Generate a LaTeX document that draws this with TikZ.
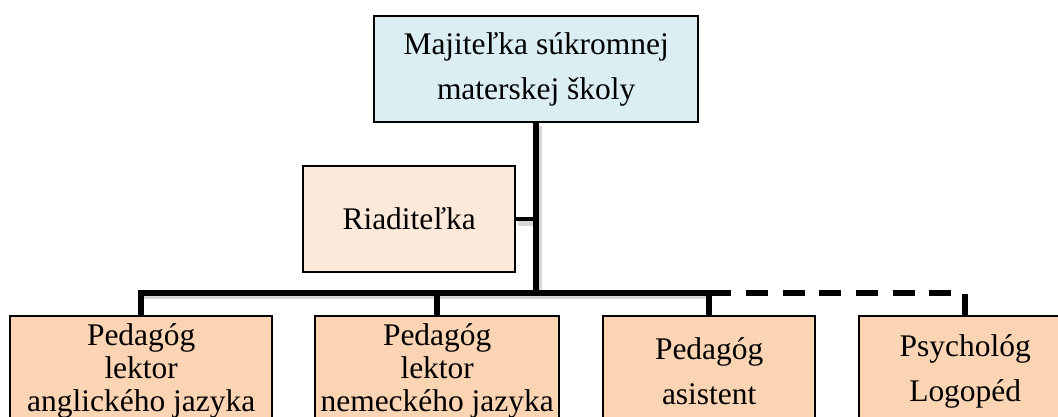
\documentclass[tikz,border=0pt]{standalone}
\usepackage{fontspec}
\setmainfont{Liberation Serif}
\begin{document}
\begin{tikzpicture}[x=0.75pt,y=-0.75pt,
  orgbox/.style={draw=black, line width=1.8pt, inner sep=0pt, align=center,
    font=\fontsize{23.6}{24.75}\selectfont, anchor=north west},
  widelines/.style={font=\fontsize{23.6}{33.75}\selectfont},
  trunkline/.style={line width=5.2pt},
  busline/.style={line width=4.4pt, line join=miter},
  sideline/.style={line width=3pt},
  dashline/.style={line width=4.4pt, dash pattern=on 16.5pt off 11pt},
  shadowline/.style={line width=5pt, black!35, opacity=0.45}]
\definecolor{topfill}{HTML}{DAEEF3}
\definecolor{riadfill}{HTML}{FDE9D9}
\definecolor{bfill}{HTML}{FBD4B4}
\useasboundingbox (0,0) rectangle (1058,417);
\clip (0,0) rectangle (1058,417);

\node[orgbox, widelines, fill=topfill, minimum width=324*0.75pt, minimum height=106*0.75pt] (top) at (373,15)
  {Majiteľka súkromnej\\materskej školy};
\node[orgbox, fill=riadfill, minimum width=212*0.75pt, minimum height=106*0.75pt] (riad) at (302,165)
  {Riaditeľka};
\node[orgbox, fill=bfill, minimum width=262*0.75pt, minimum height=110*0.75pt] (b1) at (9,315)
  {Pedagóg\\lektor\\anglického jazyka};
\node[orgbox, fill=bfill, minimum width=244*0.75pt, minimum height=110*0.75pt] (b2) at (314,315)
  {Pedagóg\\lektor\\nemeckého jazyka};
\node[orgbox, widelines, fill=bfill, minimum width=212*0.75pt, minimum height=110*0.75pt] (b3) at (602,315)
  {Pedagóg\\asistent};
\node[orgbox, widelines, fill=bfill, minimum width=212*0.75pt, minimum height=110*0.75pt] (b4) at (858,315)
  {Psychológ\\Logopéd};

\coordinate (bus) at (536,293);

% soft shadows
\draw[shadowline] ([shift={(3,3)}]top.south -| bus) -- ([shift={(3,3)}]bus);
\draw[shadowline] ([shift={(2,3)}]riad.east) -- ([shift={(2,3)}]riad.east -| bus);
\draw[shadowline] ([shift={(2,3)}]b1.north |- bus) -- ([shift={(2,3)}]b3.north |- bus);

% connectors
\draw[trunkline] (top.south -| bus) -- (bus);
\draw[sideline] (riad.east) -- (riad.east -| bus);
\draw[busline] (b1.north) |- (b3.north |- bus) -- (b3.north);
\draw[busline] (b2.north |- bus) -- (b2.north);
\draw[dashline] (b3.north |- bus) -| (b4.north);
\end{tikzpicture}
\end{document}
